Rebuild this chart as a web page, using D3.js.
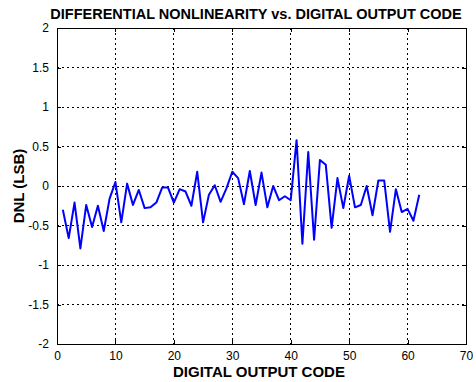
<!DOCTYPE html>
<html>
<head>
<meta charset="utf-8">
<script src="https://cdn.jsdelivr.net/npm/d3@7"></script>
<style>
  html, body { margin: 0; padding: 0; background: #fff; }
  svg { display: block; font-family: "Liberation Sans", Arial, sans-serif; }
</style>
</head>
<body>
<svg id="chart" width="476" height="382"></svg>
<script>
// Output codes 1..62 and their DNL in LSB
const codes = d3.range(1, 63);
const dnl = [
  -0.30, -0.66, -0.21, -0.79, -0.24, -0.52, -0.25, -0.57, -0.16, 0.05,
  -0.46, 0.03, -0.24, -0.05, -0.28, -0.27, -0.21, -0.02, -0.02, -0.21,
  -0.04, -0.07, -0.25, 0.18, -0.46, -0.11, 0.01, -0.20, -0.03, 0.18,
  0.10, -0.23, 0.19, -0.24, 0.17, -0.27, 0.00, -0.18, -0.13, -0.18,
  0.58, -0.73, 0.43, -0.68, 0.33, 0.27, -0.53, 0.10, -0.28, 0.13,
  -0.27, -0.24, 0.00, -0.37, 0.07, 0.07, -0.58, -0.04, -0.33, -0.29,
  -0.44, -0.11
];
const xTicks = [0, 10, 20, 30, 40, 50, 60, 70];
const yTicks = [-2, -1.5, -1, -0.5, 0, 0.5, 1, 1.5, 2];

const svg = d3.select("#chart");
const plotL = 57, plotR = 466, plotT = 28, plotB = 344;

const x = d3.scaleLinear().domain([0, 70]).range([plotL, plotR]);
const y = d3.scaleLinear().domain([-2, 2]).range([plotB, plotT]);

// dotted grid
const grid = svg.append("g").attr("stroke", "#000").attr("stroke-width", 1)
  .attr("stroke-dasharray", "2,3").attr("shape-rendering", "crispEdges");
xTicks.slice(1, -1).forEach(t => {
  grid.append("line").attr("x1", x(t)).attr("x2", x(t)).attr("y1", plotT).attr("y2", plotB);
});
yTicks.slice(1, -1).forEach(t => {
  grid.append("line").attr("x1", plotL).attr("x2", plotR).attr("y1", y(t)).attr("y2", y(t));
});

// axes with inward ticks
const fmt = d => String(d);
const axB = d3.axisBottom(x).tickValues(xTicks).tickSizeInner(-4).tickSizeOuter(0).tickPadding(7).tickFormat(fmt);
const axL = d3.axisLeft(y).tickValues(yTicks).tickSizeInner(-4).tickSizeOuter(0).tickPadding(8).tickFormat(fmt);
const axT = d3.axisTop(x).tickValues(xTicks).tickSizeInner(-4).tickSizeOuter(0).tickFormat("");
const axR = d3.axisRight(y).tickValues(yTicks).tickSizeInner(-4).tickSizeOuter(0).tickFormat("");

function styleAxis(g) {
  g.select(".domain").remove();
  g.selectAll("line").attr("stroke", "#000").attr("shape-rendering", "crispEdges");
  g.selectAll("text").attr("fill", "#000").style("font-size", "12px");
}
svg.append("g").attr("transform", `translate(0,${plotB})`).call(axB).call(styleAxis);
svg.append("g").attr("transform", `translate(${plotL},0)`).call(axL).call(styleAxis);
svg.append("g").attr("transform", `translate(0,${plotT})`).call(axT).call(styleAxis);
svg.append("g").attr("transform", `translate(${plotR},0)`).call(axR).call(styleAxis);

// frame
svg.append("rect").attr("x", plotL).attr("y", plotT).attr("width", plotR - plotL).attr("height", plotB - plotT)
  .attr("fill", "none").attr("stroke", "#000").attr("stroke-width", 1).attr("shape-rendering", "crispEdges");

// DNL trace
const line = d3.line().x((d, i) => x(codes[i])).y(d => y(d));
svg.append("path").datum(dnl).attr("d", line)
  .attr("fill", "none").attr("stroke", "#0000ff").attr("stroke-width", 2).attr("stroke-linejoin", "round");

// titles
svg.append("text").attr("x", 256).attr("y", 19).attr("text-anchor", "middle")
  .style("font-size", "14.5px").style("font-weight", "bold").text("DIFFERENTIAL NONLINEARITY vs. DIGITAL OUTPUT CODE");
svg.append("text").attr("x", 259).attr("y", 377).attr("text-anchor", "middle")
  .style("font-size", "15px").style("font-weight", "bold").text("DIGITAL OUTPUT CODE");
svg.append("text").attr("transform", `translate(24,${(plotT + plotB) / 2}) rotate(-90)`).attr("text-anchor", "middle")
  .style("font-size", "15px").style("font-weight", "bold").text("DNL (LSB)");
</script>
</body>
</html>
